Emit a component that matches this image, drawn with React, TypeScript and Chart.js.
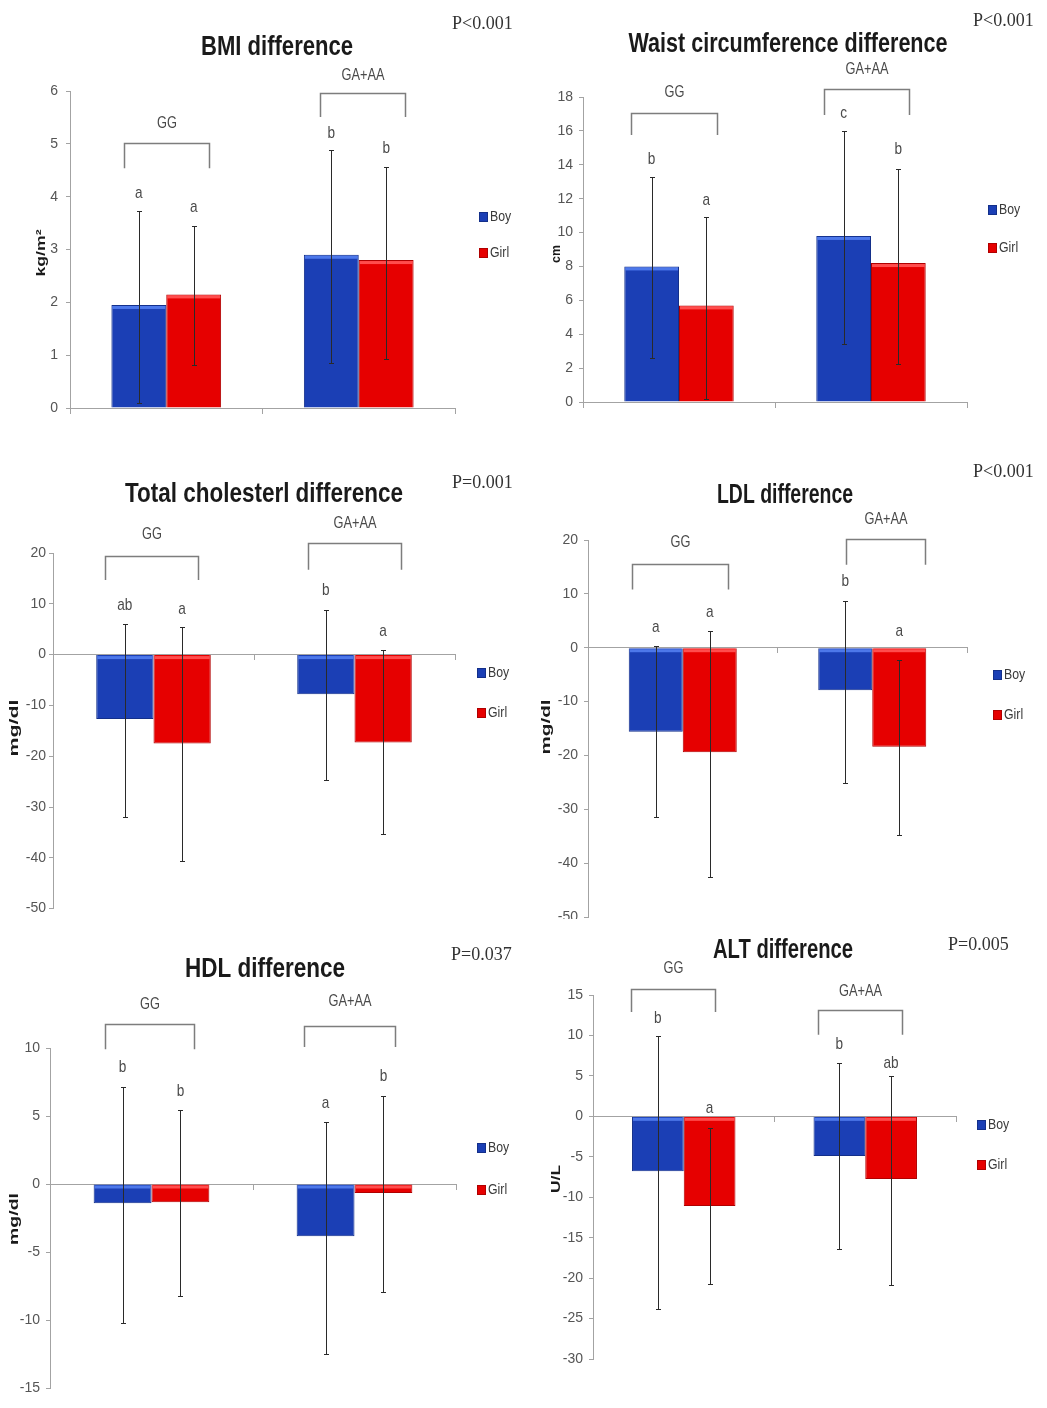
import React, { useEffect, useRef } from "react";
import { Chart, registerables } from "chart.js";

Chart.register(...registerables);

// ---------------- data ----------------
const groups = ["GG", "GA+AA"];
const seriesLabels = ["Boy", "Girl"];

const bmiBoy = [1.95, 2.9];
const bmiGirl = [2.15, 2.8];
const bmiBoyHigh = [3.72, 4.88];
const bmiBoyLow = [0.1, 0.85];
const bmiGirlHigh = [3.45, 4.57];
const bmiGirlLow = [0.82, 0.93];
const bmiBoyLetters = ["a", "b"];
const bmiGirlLetters = ["a", "b"];
const bmiAxis = [0, 6, 1];

const waistBoy = [8.0, 9.8];
const waistGirl = [5.7, 8.2];
const waistBoyHigh = [13.25, 16.0];
const waistBoyLow = [2.6, 3.45];
const waistGirlHigh = [10.9, 13.75];
const waistGirlLow = [0.2, 2.25];
const waistBoyLetters = ["b", "c"];
const waistGirlLetters = ["a", "b"];
const waistAxis = [0, 18, 2];

const tcBoy = [-12.7, -7.8];
const tcGirl = [-17.5, -17.3];
const tcBoyHigh = [6.1, 8.7];
const tcBoyLow = [-32.0, -24.7];
const tcGirlHigh = [5.4, 1.0];
const tcGirlLow = [-40.7, -35.3];
const tcBoyLetters = ["ab", "b"];
const tcGirlLetters = ["a", "a"];
const tcAxis = [-50, 20, 10];

const ldlBoy = [-15.6, -7.9];
const ldlGirl = [-19.4, -18.4];
const ldlBoyHigh = [0.3, 8.6];
const ldlBoyLow = [-31.5, -25.1];
const ldlGirlHigh = [3.1, -2.2];
const ldlGirlLow = [-42.6, -34.7];
const ldlBoyLetters = ["a", "b"];
const ldlGirlLetters = ["a", "a"];
const ldlAxis = [-50, 20, 10];

const hdlBoy = [-1.42, -3.85];
const hdlGirl = [-1.35, -0.66];
const hdlBoyHigh = [7.1, 4.58];
const hdlBoyLow = [-10.2, -12.5];
const hdlGirlHigh = [5.47, 6.5];
const hdlGirlLow = [-8.2, -7.97];
const hdlBoyLetters = ["b", "a"];
const hdlGirlLetters = ["b", "b"];
const hdlAxis = [-15, 10, 5];

const altBoy = [-6.8, -4.9];
const altGirl = [-11.1, -7.75];
const altBoyHigh = [9.9, 6.6];
const altBoyLow = [-23.8, -16.4];
const altGirlHigh = [-1.45, 5.0];
const altGirlLow = [-20.7, -20.9];
const altBoyLetters = ["b", "b"];
const altGirlLetters = ["a", "ab"];
const altAxis = [-30, 15, 5];

// ---------------- styles ----------------
const BOY = "#1b3fb5";
const GIRL = "#e60000";
const BOY_EDGE = "#132f8a";
const GIRL_EDGE = "#b00000";
const BOY_LIGHT = "#4d78ea";
const GIRL_LIGHT = "#ff4d4d";
const AXIS = "#a3a3a3";
const SANS = '"Liberation Sans", Arial, sans-serif';
const SERIF = '"Liberation Serif", "Times New Roman", serif';
const Y_AXIS_W = 40;

type Panel = {
  key: string;
  title: string;
  pText: string;
  yTitle: string;
  boy: number[];
  girl: number[];
  boyHigh: number[];
  boyLow: number[];
  girlHigh: number[];
  girlLow: number[];
  boyLetters: string[];
  girlLetters: string[];
  axis: number[];
  canvas: number[]; // left, top, width, height (page px)
  clipH?: number;
  area: number[]; // x0, x1, yTop, yBottom (page px)
  tickPad: number;
  titleBox: number[]; // cx, baseline, width
  pPos: number[]; // x, baseline
  yTitlePos: number[]; // x, y, length
  legendPos: number[]; // x, yBoy, yGirl
  brackets: number[][]; // from, to (category units), top, bottom, labelY (data units)
  letterY: number[][]; // [boy], [girl] data units
};

const panels: Panel[] = [
  {
    key: "bmi", title: "BMI difference", pText: "P<0.001", yTitle: "kg/m\u00B2",
    boy: bmiBoy, girl: bmiGirl, boyHigh: bmiBoyHigh, boyLow: bmiBoyLow,
    girlHigh: bmiGirlHigh, girlLow: bmiGirlLow,
    boyLetters: bmiBoyLetters, girlLetters: bmiGirlLetters, axis: bmiAxis,
    canvas: [0, 0, 523, 440], area: [70, 455, 91, 408], tickPad: 8,
    titleBox: [277, 55, 152], pPos: [452, 29], yTitlePos: [42, 253, 47],
    legendPos: [479, 217, 253],
    brackets: [[-0.22, 0.22, 5.02, 4.54, 5.39], [0.8, 1.24, 5.96, 5.51, 6.3]],
    letterY: [[4.07, 5.2], [3.79, 4.92]],
  },
  {
    key: "waist", title: "Waist circumference difference", pText: "P<0.001", yTitle: "cm",
    boy: waistBoy, girl: waistGirl, boyHigh: waistBoyHigh, boyLow: waistBoyLow,
    girlHigh: waistGirlHigh, girlLow: waistGirlLow,
    boyLetters: waistBoyLetters, girlLetters: waistGirlLetters, axis: waistAxis,
    canvas: [523, 0, 524, 440], area: [583, 967, 97, 402], tickPad: 6,
    titleBox: [788, 52, 319], pPos: [973, 26], yTitlePos: [557, 254, 18],
    legendPos: [988, 210, 248],
    brackets: [[-0.25, 0.2, 17.06, 15.76, 18.24], [0.755, 1.2, 18.48, 16.94, 19.6]],
    letterY: [[14.3, 17.06], [11.9, 14.9]],
  },
  {
    key: "tc", title: "Total cholesterl difference", pText: "P=0.001", yTitle: "mg/dl",
    boy: tcBoy, girl: tcGirl, boyHigh: tcBoyHigh, boyLow: tcBoyLow,
    girlHigh: tcGirlHigh, girlLow: tcGirlLow,
    boyLetters: tcBoyLetters, girlLetters: tcGirlLetters, axis: tcAxis,
    canvas: [0, 440, 523, 480], area: [53, 455, 553, 910], tickPad: 3,
    titleBox: [264, 502, 278], pPos: [452, 488], yTitlePos: [15, 728, 57],
    legendPos: [477, 673, 713],
    brackets: [[-0.24, 0.22, 19.4, 14.7, 23.7], [0.77, 1.23, 21.9, 16.7, 25.7]],
    letterY: [[9.8, 12.7], [9.0, 4.5]],
  },
  {
    key: "ldl", title: "LDL difference", pText: "P<0.001", yTitle: "mg/dl",
    boy: ldlBoy, girl: ldlGirl, boyHigh: ldlBoyHigh, boyLow: ldlBoyLow,
    girlHigh: ldlGirlHigh, girlLow: ldlGirlLow,
    boyLetters: ldlBoyLetters, girlLetters: ldlGirlLetters, axis: ldlAxis,
    canvas: [523, 440, 524, 500], clipH: 479, area: [588, 967, 540, 917], tickPad: 6,
    titleBox: [785, 503, 136], pPos: [973, 477], yTitlePos: [547, 727, 55],
    legendPos: [993, 675, 715],
    brackets: [[-0.27, 0.24, 15.6, 10.8, 19.5], [0.86, 1.28, 20.2, 15.4, 23.8]],
    letterY: [[3.7, 12.3], [6.5, 3.0]],
  },
  {
    key: "hdl", title: "HDL difference", pText: "P=0.037", yTitle: "mg/dl",
    boy: hdlBoy, girl: hdlGirl, boyHigh: hdlBoyHigh, boyLow: hdlBoyLow,
    girlHigh: hdlGirlHigh, girlLow: hdlGirlLow,
    boyLetters: hdlBoyLetters, girlLetters: hdlGirlLetters, axis: hdlAxis,
    canvas: [0, 920, 523, 488], area: [50, 456, 1048, 1388], tickPad: 6,
    titleBox: [265, 977, 160], pPos: [451, 960], yTitlePos: [15, 1219, 52],
    legendPos: [477, 1148, 1190],
    brackets: [[-0.23, 0.21, 11.76, 9.9, 13.2], [0.75, 1.2, 11.6, 10.07, 13.4]],
    letterY: [[8.6, 5.9], [6.8, 7.9]],
  },
  {
    key: "alt", title: "ALT difference", pText: "P=0.005", yTitle: "U/L",
    boy: altBoy, girl: altGirl, boyHigh: altBoyHigh, boyLow: altBoyLow,
    girlHigh: altGirlHigh, girlLow: altGirlLow,
    boyLetters: altBoyLetters, girlLetters: altGirlLetters, axis: altAxis,
    canvas: [523, 920, 524, 488], area: [593, 956, 995, 1359], tickPad: 6,
    titleBox: [783, 958, 140], pPos: [948, 950], yTitlePos: [557, 1179, 28],
    legendPos: [977, 1125, 1165],
    brackets: [[-0.29, 0.17, 15.7, 12.9, 18.3], [0.74, 1.2, 13.2, 10.1, 15.45]],
    letterY: [[12.1, 8.9], [1.0, 6.6]],
  },
];

function drawText(
  ctx: CanvasRenderingContext2D, text: string, x: number, y: number,
  font: string, color: string, align: CanvasTextAlign, sx: number,
  baseline: CanvasTextBaseline = "middle"
) {
  ctx.save();
  ctx.translate(x, y);
  ctx.scale(sx, 1);
  ctx.font = font;
  ctx.fillStyle = color;
  ctx.textAlign = align;
  ctx.textBaseline = baseline;
  ctx.fillText(text, 0, 0);
  ctx.restore();
}

function makePlugin(p: Panel) {
  const ox = p.canvas[0];
  const oy = p.canvas[1];
  return {
    id: "annot_" + p.key,
    afterDatasetsDraw(chart: any) {
      const ctx: CanvasRenderingContext2D = chart.ctx;
      const ys = chart.scales.y;
      const highs = [p.boyHigh, p.girlHigh];
      const lows = [p.boyLow, p.girlLow];
      const light = [BOY_LIGHT, GIRL_LIGHT];
      ctx.save();
      chart.data.datasets.forEach((_ds: any, di: number) => {
        const meta = chart.getDatasetMeta(di);
        meta.data.forEach((el: any) => {
          const { x, y, base, width } = el.getProps(["x", "y", "base", "width"], true);
          const top = Math.min(y, base);
          const h = Math.abs(base - y);
          ctx.fillStyle = light[di];
          ctx.fillRect(x - width / 2 + 1, top + 1, width - 2, Math.min(3, h));
        });
      });
      chart.data.datasets.forEach((_ds: any, di: number) => {
        const meta = chart.getDatasetMeta(di);
        meta.data.forEach((el: any, i: number) => {
          const x = Math.round(el.x) + 0.5;
          const yH = Math.round(ys.getPixelForValue(highs[di][i])) + 0.5;
          const yL = Math.round(ys.getPixelForValue(lows[di][i])) + 0.5;
          ctx.strokeStyle = "#2a2a2a";
          ctx.lineWidth = 1;
          ctx.beginPath();
          ctx.moveTo(x, yH);
          ctx.lineTo(x, yL);
          ctx.moveTo(x - 2.5, yH);
          ctx.lineTo(x + 2.5, yH);
          ctx.moveTo(x - 2.5, yL);
          ctx.lineTo(x + 2.5, yL);
          ctx.stroke();
        });
      });
      ctx.restore();
    },
    afterDraw(chart: any) {
      const ctx: CanvasRenderingContext2D = chart.ctx;
      const xs = chart.scales.x;
      const ys = chart.scales.y;
      const letters = [p.boyLetters, p.girlLetters];

      // significance letters
      chart.data.datasets.forEach((_ds: any, di: number) => {
        const meta = chart.getDatasetMeta(di);
        meta.data.forEach((el: any, i: number) => {
          drawText(ctx, letters[di][i], el.x, ys.getPixelForValue(p.letterY[di][i]),
            `17px ${SANS}`, "#4a4a4a", "center", 0.8);
        });
      });

      // genotype brackets
      p.brackets.forEach((b, gi) => {
        const xa = Math.round(xs.getPixelForValue(b[0])) + 0.5;
        const xb = Math.round(xs.getPixelForValue(b[1])) + 0.5;
        const yt = Math.round(ys.getPixelForValue(b[2])) + 0.5;
        const yb = ys.getPixelForValue(b[3]);
        ctx.save();
        ctx.strokeStyle = "#7d7d7d";
        ctx.lineWidth = 1.5;
        ctx.beginPath();
        ctx.moveTo(xa, yb);
        ctx.lineTo(xa, yt);
        ctx.lineTo(xb, yt);
        ctx.lineTo(xb, yb);
        ctx.stroke();
        ctx.restore();
        drawText(ctx, groups[gi], (xa + xb) / 2, ys.getPixelForValue(b[4]),
          `16px ${SANS}`, "#4a4a4a", "center", 0.8);
      });

      // title (fitted to width)
      ctx.save();
      ctx.font = `bold 28px ${SANS}`;
      const tw = ctx.measureText(p.title).width;
      ctx.restore();
      drawText(ctx, p.title, p.titleBox[0] - ox, p.titleBox[1] - oy,
        `bold 28px ${SANS}`, "#1a1a1a", "center", p.titleBox[2] / tw, "alphabetic");

      // p value
      drawText(ctx, p.pText, p.pPos[0] - ox, p.pPos[1] - oy,
        `18px ${SERIF}`, "#333333", "left", 1, "alphabetic");

      // y axis title (rotated)
      ctx.save();
      ctx.font = `bold 12px ${SANS}`;
      const yw = ctx.measureText(p.yTitle).width;
      ctx.translate(p.yTitlePos[0] - ox, p.yTitlePos[1] - oy);
      ctx.rotate(-Math.PI / 2);
      ctx.scale(p.yTitlePos[2] / yw, 1);
      ctx.fillStyle = "#1a1a1a";
      ctx.textAlign = "center";
      ctx.textBaseline = "middle";
      ctx.fillText(p.yTitle, 0, 0);
      ctx.restore();

      // legend
      const cols = [BOY, GIRL];
      const edges = [BOY_EDGE, GIRL_EDGE];
      const lys = [p.legendPos[1], p.legendPos[2]];
      seriesLabels.forEach((lab, i) => {
        const lx = p.legendPos[0] - ox;
        const ly = lys[i] - oy;
        ctx.save();
        ctx.fillStyle = cols[i];
        ctx.fillRect(lx, ly - 5, 9, 10);
        ctx.strokeStyle = edges[i];
        ctx.lineWidth = 1;
        ctx.strokeRect(lx + 0.5, ly - 4.5, 8, 9);
        ctx.restore();
        drawText(ctx, lab, lx + 11, ly, `15px ${SANS}`, "#3a3a3a", "left", 0.82);
      });
    },
  };
}

function buildConfig(p: Panel): any {
  const [l, t, w, h] = p.canvas;
  const [x0, x1, yTop, yBot] = p.area;
  return {
    type: "bar",
    data: {
      labels: groups,
      datasets: [
        {
          label: seriesLabels[0], data: p.boy, backgroundColor: BOY,
          borderColor: BOY_EDGE, borderWidth: 1,
          categoryPercentage: 0.57, barPercentage: 1,
        },
        {
          label: seriesLabels[1], data: p.girl, backgroundColor: GIRL,
          borderColor: GIRL_EDGE, borderWidth: 1,
          categoryPercentage: 0.57, barPercentage: 1,
        },
      ],
    },
    options: {
      responsive: false,
      animation: false,
      devicePixelRatio: 1,
      layout: {
        padding: {
          left: x0 - l - Y_AXIS_W,
          right: l + w - x1,
          top: yTop - t,
          bottom: t + h - yBot,
        },
      },
      plugins: {
        legend: { display: false },
        tooltip: { enabled: false },
        title: { display: false },
      },
      scales: {
        x: {
          type: "category",
          position: { y: 0 },
          offset: true,
          grid: {
            display: true, drawOnChartArea: false, drawTicks: true,
            tickLength: 5, color: AXIS, offset: true,
          },
          border: { display: true, color: AXIS, width: 1 },
          ticks: { display: false },
        },
        y: {
          type: "linear",
          min: p.axis[0],
          max: p.axis[1],
          afterFit: (s: any) => { s.width = Y_AXIS_W; },
          ticks: {
            stepSize: p.axis[2],
            color: "#555555",
            padding: p.tickPad,
            font: { family: SANS, size: 14 },
          },
          grid: { drawOnChartArea: false, drawTicks: true, tickLength: 4, color: AXIS },
          border: { display: true, color: AXIS, width: 1 },
        },
      },
    },
    plugins: [makePlugin(p)],
  };
}

function PanelChart({ p }: { p: Panel }) {
  const ref = useRef<HTMLCanvasElement>(null);
  useEffect(() => {
    const chart = new Chart(ref.current as HTMLCanvasElement, buildConfig(p));
    return () => chart.destroy();
  }, [p]);
  const [l, t, w, h] = p.canvas;
  return (
    <div
      style={{
        position: "absolute", left: l, top: t, width: w,
        height: p.clipH ?? h, overflow: "hidden",
      }}
    >
      <canvas ref={ref} width={w} height={h} style={{ display: "block", width: w, height: h }} />
    </div>
  );
}

export default function App() {
  return (
    <div
      style={{
        position: "absolute", left: 0, top: 0, width: 1047, height: 1408,
        background: "#ffffff", overflow: "hidden",
      }}
    >
      {panels.map((p) => (
        <PanelChart key={p.key} p={p} />
      ))}
    </div>
  );
}
